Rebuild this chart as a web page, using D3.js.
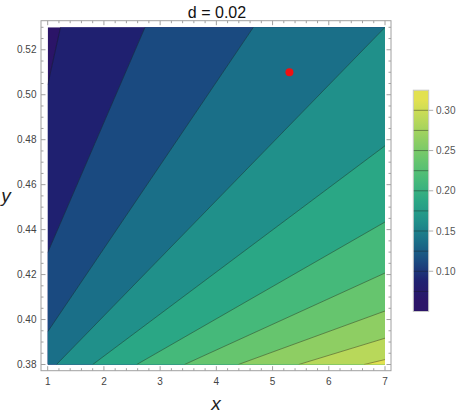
<!DOCTYPE html>
<html lang="en">
<head>
    <meta charset="utf-8">
    <title>Contour plot, d = 0.02</title>
    <style>
        body { margin: 0; background: #fff; font-family: "Liberation Sans", Arial, sans-serif; }
        svg { display: block; }
    </style>
</head>
<body>
    <script src="https://cdn.jsdelivr.net/npm/d3@7/dist/d3.min.js"></script>
    <script>
    // contour levels and the band colours between them
    var levels = [0.075, 0.1, 0.125, 0.15, 0.175, 0.2, 0.225, 0.25, 0.275, 0.3];
    var bandColors = ["#2b1468", "#1f2070", "#1a4a80", "#1a6f88", "#20908a", "#2aa785",
                      "#45b97a", "#66c56e", "#8ece63", "#b8d85a", "#e2e150"];

    // each contour line: where it enters (top/left edge) and leaves (bottom/right edge), data units
    var lineFrom = [[1.228, 0.53], [2.731, 0.53], [4.658, 0.53], [7, 0.53], [7, 0.4773],
                    [7, 0.4434], [7, 0.4207], [7, 0.4038], [7, 0.3917], [7, 0.3822]];
    var lineTo = [[1, 0.5044], [1, 0.4298], [1, 0.3946], [1.157, 0.38], [1.801, 0.38],
                  [2.584, 0.38], [3.434, 0.38], [4.391, 0.38], [5.466, 0.38], [6.628, 0.38]];

    var point = [5.3, 0.51];

    var xTicks = [1, 2, 3, 4, 5, 6, 7];
    var yTicks = [0.38, 0.40, 0.42, 0.44, 0.46, 0.48, 0.50, 0.52];
    var legendTicks = [0.10, 0.15, 0.20, 0.25, 0.30];

    var w = 463, h = 416;

    var x = d3.scaleLinear().domain([1, 7]).range([47.7, 385]);
    var y = d3.scaleLinear().domain([0.38, 0.53]).range([364.5, 27.3]);
    var c = d3.scaleLinear().domain([0.05, 0.325]).range([311.5, 90.2]);

    var svg = d3.select("body").append("svg")
        .attr("width", w)
        .attr("height", h);

    var defs = svg.append("defs");
    defs.append("clipPath").attr("id", "plotClip")
        .append("rect")
        .attr("x", x(1)).attr("y", y(0.53))
        .attr("width", x(7) - x(1)).attr("height", y(0.38) - y(0.53));

    // rectangle of the plot, in pixels
    var rect = [[x(1), y(0.53)], [x(7), y(0.53)], [x(7), y(0.38)], [x(1), y(0.38)]];
    var highCorner = [x(7), y(0.38)];

    function side(p, q, r) {
        return (q[0] - p[0]) * (r[1] - p[1]) - (q[1] - p[1]) * (r[0] - p[0]);
    }

    // keep the part of the rectangle on the high-value side of line p-q
    function clipHalf(poly, p, q) {
        var ref = side(p, q, highCorner);
        var out = [];
        for (var i = 0; i < poly.length; i++) {
            var a = poly[i], b = poly[(i + 1) % poly.length];
            var sa = side(p, q, a) * ref, sb = side(p, q, b) * ref;
            if (sa >= 0) out.push(a);
            if ((sa > 0 && sb < 0) || (sa < 0 && sb > 0)) {
                var t = sa / (sa - sb);
                out.push([a[0] + t * (b[0] - a[0]), a[1] + t * (b[1] - a[1])]);
            }
        }
        return out;
    }

    var plot = svg.append("g").attr("clip-path", "url(#plotClip)");

    plot.append("polygon")
        .attr("points", rect.map(function(d) { return d.join(","); }).join(" "))
        .attr("fill", bandColors[0]);

    var bands = levels.map(function(l, i) {
        var p = [x(lineFrom[i][0]), y(lineFrom[i][1])];
        var q = [x(lineTo[i][0]), y(lineTo[i][1])];
        return { poly: clipHalf(rect, p, q), color: bandColors[i + 1], p: p, q: q };
    });

    plot.selectAll(".band").data(bands).enter()
        .append("polygon")
        .attr("class", "band")
        .attr("points", function(d) { return d.poly.map(function(v) { return v.join(","); }).join(" "); })
        .attr("fill", function(d) { return d.color; })
        .attr("stroke", function(d) { return d.color; })
        .attr("stroke-width", 0.5);

    plot.selectAll(".cline").data(bands).enter()
        .append("line")
        .attr("class", "cline")
        .attr("x1", function(d) { return d.p[0]; })
        .attr("y1", function(d) { return d.p[1]; })
        .attr("x2", function(d) { return d.q[0]; })
        .attr("y2", function(d) { return d.q[1]; })
        .attr("stroke", "#1a1a1a")
        .attr("stroke-opacity", 0.5)
        .attr("stroke-width", 0.8);

    // red point
    svg.append("circle")
        .attr("cx", x(point[0]))
        .attr("cy", y(point[1]))
        .attr("r", 4)
        .attr("fill", "#ee1111");

    // frame with inward ticks on all sides
    var fx0 = 41, fx1 = 391, fy0 = 20.7, fy1 = 370.7;
    var frame = svg.append("g").attr("stroke", "#a0a0a0").attr("stroke-width", 1);
    frame.append("rect")
        .attr("x", fx0).attr("y", fy0)
        .attr("width", fx1 - fx0).attr("height", fy1 - fy0)
        .attr("fill", "none");

    var xMinor = d3.range(1, 7.001, 0.2);
    var yMinor = d3.range(0.38, 0.5301, 0.005);

    function isMajorX(v) { return Math.abs(v - Math.round(v)) < 1e-6; }
    function isMajorY(v) { return Math.abs(v * 50 - Math.round(v * 50)) < 1e-6; }

    xMinor.forEach(function(v) {
        var len = isMajorX(v) ? 4.5 : 2.5;
        frame.append("line").attr("x1", x(v)).attr("x2", x(v)).attr("y1", fy1).attr("y2", fy1 - len);
        frame.append("line").attr("x1", x(v)).attr("x2", x(v)).attr("y1", fy0).attr("y2", fy0 + len);
    });
    yMinor.forEach(function(v) {
        var len = isMajorY(v) ? 4.5 : 2.5;
        frame.append("line").attr("y1", y(v)).attr("y2", y(v)).attr("x1", fx0).attr("x2", fx0 + len);
        frame.append("line").attr("y1", y(v)).attr("y2", y(v)).attr("x1", fx1).attr("x2", fx1 - len);
    });

    svg.selectAll(".xlab").data(xTicks).enter()
        .append("text")
        .attr("x", function(d) { return x(d); })
        .attr("y", 385)
        .attr("text-anchor", "middle")
        .attr("font-size", 10)
        .attr("fill", "#444")
        .text(function(d) { return d; });

    svg.selectAll(".ylab").data(yTicks).enter()
        .append("text")
        .attr("x", 36.5)
        .attr("y", function(d) { return y(d) + 3.5; })
        .attr("text-anchor", "end")
        .attr("font-size", 10)
        .attr("fill", "#444")
        .text(function(d) { return d3.format(".2f")(d); });

    // titles
    svg.append("text")
        .attr("x", 217).attr("y", 17.5)
        .attr("text-anchor", "middle")
        .attr("font-size", 16)
        .attr("fill", "#111")
        .text("d = 0.02");

    svg.append("text")
        .attr("x", 216).attr("y", 410)
        .attr("text-anchor", "middle")
        .attr("font-size", 19)
        .attr("font-style", "italic")
        .attr("fill", "#222")
        .text("x");

    svg.append("text")
        .attr("x", 6).attr("y", 202)
        .attr("text-anchor", "middle")
        .attr("font-size", 19)
        .attr("font-style", "italic")
        .attr("fill", "#222")
        .text("y");

    // colour bar
    var grad = defs.append("linearGradient").attr("id", "barGrad")
        .attr("x1", 0).attr("y1", 1).attr("x2", 0).attr("y2", 0);
    var edges = [0.05].concat(levels, [0.325]);
    bandColors.forEach(function(col, i) {
        var mid = (edges[i] + edges[i + 1]) / 2;
        grad.append("stop")
            .attr("offset", (mid - 0.05) / 0.275)
            .attr("stop-color", col);
    });

    var bx0 = 413.3, bx1 = 428.7;
    svg.append("rect")
        .attr("x", bx0).attr("y", c(0.325))
        .attr("width", bx1 - bx0).attr("height", c(0.05) - c(0.325))
        .attr("fill", "url(#barGrad)")
        .attr("stroke", "#c8c8c8")
        .attr("stroke-width", 1);

    svg.selectAll(".blevel").data(levels).enter()
        .append("line")
        .attr("x1", bx0 + 0.5).attr("x2", bx1 - 0.5)
        .attr("y1", function(d) { return c(d); })
        .attr("y2", function(d) { return c(d); })
        .attr("stroke", "#1a1a1a")
        .attr("stroke-opacity", 0.5)
        .attr("stroke-width", 0.8);

    svg.selectAll(".btick").data(legendTicks).enter()
        .append("line")
        .attr("x1", bx1).attr("x2", bx1 + 4.5)
        .attr("y1", function(d) { return c(d); })
        .attr("y2", function(d) { return c(d); })
        .attr("stroke", "#b0b0b0");

    svg.selectAll(".blab").data(legendTicks).enter()
        .append("text")
        .attr("x", 436)
        .attr("y", function(d) { return c(d) + 3.5; })
        .attr("font-size", 10)
        .attr("fill", "#555")
        .text(function(d) { return d3.format(".2f")(d); });
    </script>
</body>
</html>
